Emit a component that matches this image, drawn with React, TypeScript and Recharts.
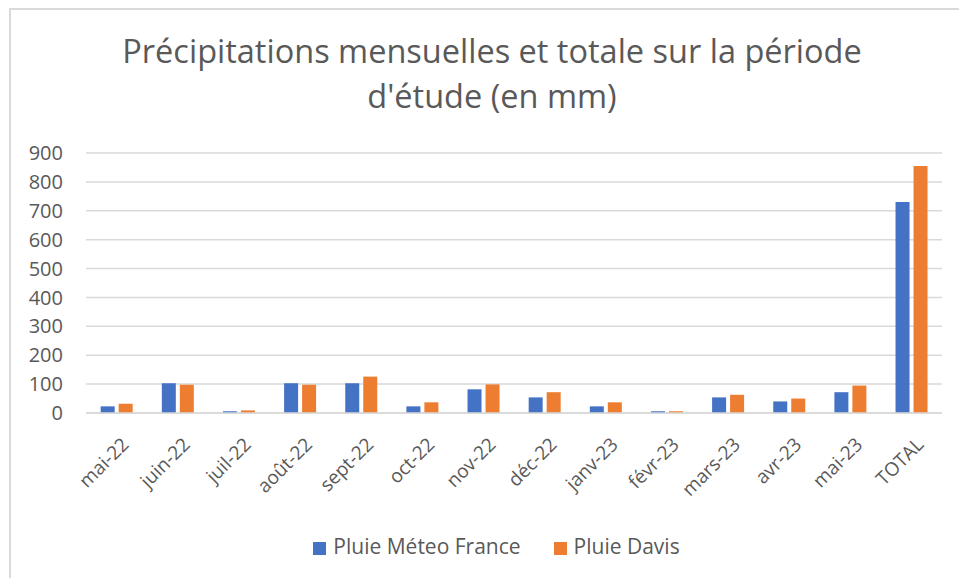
import React from 'react';
import { BarChart, Bar, XAxis, YAxis, CartesianGrid, Legend } from 'recharts';

const months = ['mai-22', 'juin-22', 'juil-22', 'août-22', 'sept-22', 'oct-22', 'nov-22', 'déc-22', 'janv-23', 'févr-23', 'mars-23', 'avr-23', 'mai-23', 'TOTAL'];
const meteoFrance = [23, 103, 6, 103, 103, 23, 82, 54, 23, 6, 54, 40, 72, 730];
const davis = [32, 98, 9, 98, 126, 37, 99, 72, 37, 6, 63, 50, 95, 855];
const yTicks = [0, 100, 200, 300, 400, 500, 600, 700, 800, 900];

const data = months.map((m, i) => ({
  month: m,
  meteo: meteoFrance[i],
  davis: davis[i]
}));

const FONT = '"Open Sans", sans-serif';
const GREY = '#595959';
const seriesOrder = ['meteo', 'davis'];

const AngledTick = (props: any) => {
  const { x, y, payload } = props;
  return <g transform={`translate(${x},${y})`}>
      <text x={-8} y={0} dy={27} textAnchor="end" transform="rotate(-45)" fill={GREY} fontSize={19} fontFamily={FONT}>
        {payload.value}
      </text>
    </g>;
};

const App: React.FC = () => {
  return <div style={{
    position: 'absolute',
    left: 0,
    top: 0,
    width: 959,
    height: 578,
    overflow: 'hidden',
    background: '#fff'
  }}>
      <div style={{
      position: 'absolute',
      left: 9,
      top: 8,
      width: 1000,
      height: 700,
      border: '2px solid #d9d9d9'
    }} />
      <div style={{
      position: 'absolute',
      left: 0,
      top: 28,
      width: 984,
      textAlign: 'center',
      fontFamily: FONT,
      fontSize: 32.5,
      lineHeight: '45px',
      color: GREY
    }}>
        Précipitations mensuelles et totale sur la période<br />d'étude (en mm)
      </div>
      <div style={{ position: 'absolute', left: 0, top: 0 }}>
        <BarChart width={959} height={578} data={data} barCategoryGap="24%" barGap={4} margin={{
        top: 153,
        right: 17,
        left: 0,
        bottom: 18
      }}>
          <CartesianGrid vertical={false} stroke="#d9d9d9" strokeWidth={1.5} />
          <XAxis dataKey="month" interval={0} height={119} tick={<AngledTick />} tickLine={false} axisLine={{
          stroke: '#d9d9d9',
          strokeWidth: 1.5
        }} />
          <YAxis width={86} domain={[0, 900]} ticks={yTicks} tickLine={false} axisLine={false} tickSize={0} tickMargin={23} tick={{
          fontSize: 20,
          fill: GREY,
          fontFamily: FONT
        }} />
          <Legend verticalAlign="bottom" height={28} iconType="square" iconSize={13} itemSorter={(item: any) => seriesOrder.indexOf(item.dataKey)} wrapperStyle={{
          fontFamily: FONT,
          fontSize: 21,
          color: GREY,
          left: 42
        }} formatter={(v: string) => <span style={{ color: GREY, paddingLeft: 3, marginRight: 23 }}>{v}</span>} />
          <Bar dataKey="meteo" name="Pluie Méteo France" fill="#4472c4" isAnimationActive={false} />
          <Bar dataKey="davis" name="Pluie Davis" fill="#ed7d31" isAnimationActive={false} />
        </BarChart>
      </div>
    </div>;
};

export default App;
